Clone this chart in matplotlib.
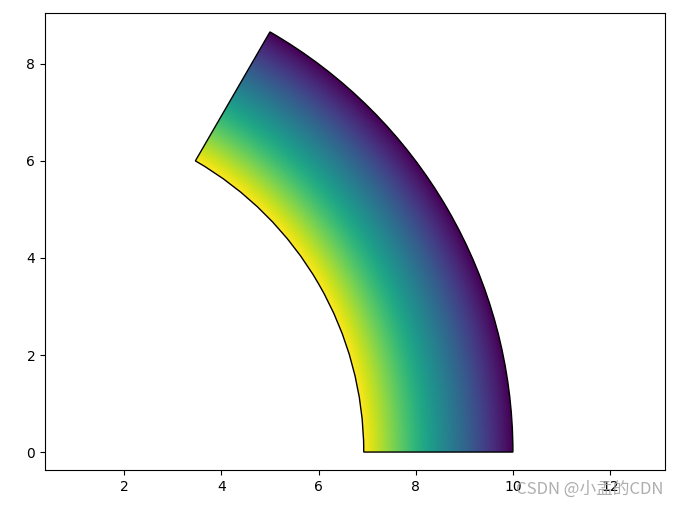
import numpy as np
import matplotlib
matplotlib.use("Agg")
import matplotlib.pyplot as plt
from matplotlib.patches import Wedge

# Wedge parameters
center = [0.0, 0.0]
r_outer = 10.0
r_inner = 6.93
theta_start = 0.0
theta_end = 60.0
xlim = [0.37, 13.13]
ylim = [-0.37, 9.05]
xticks = [2, 4, 6, 8, 10, 12]
yticks = [0, 2, 4, 6, 8]

fig = plt.figure(figsize=(6.76, 5.09), dpi=100)
W, H = 676, 509
ax = fig.add_axes([45 / W, (H - 470) / H, 620 / W, 457 / H])

wedge = Wedge((center[0], center[1]), r_outer, theta_start, theta_end,
              width=r_outer - r_inner, facecolor="none", edgecolor="black", lw=1.0)
ax.add_patch(wedge)

# radial gradient image
ext = [xlim[0], xlim[1], ylim[0], ylim[1]]
xs = np.linspace(ext[0], ext[1], 800)
ys = np.linspace(ext[2], ext[3], 600)
X, Y = np.meshgrid(xs, ys)
R = np.hypot(X - center[0], Y - center[1])
im = ax.imshow(R, extent=ext, origin="lower", cmap="viridis_r",
               vmin=r_inner, vmax=r_outer, interpolation="bilinear", aspect="auto")
im.set_clip_path(wedge)

ax.set_xlim(xlim)
ax.set_ylim(ylim)
ax.set_xticks(xticks)
ax.set_yticks(yticks)

fig.text(663 / W, (H - 498) / H, "CSDN @小孟的CDN", ha="right", va="bottom",
         color="#a0a0a0", fontsize=12, alpha=0.85,
         family=["Noto Sans CJK SC", "DejaVu Sans"])

fig.savefig("out.png", dpi=100)
